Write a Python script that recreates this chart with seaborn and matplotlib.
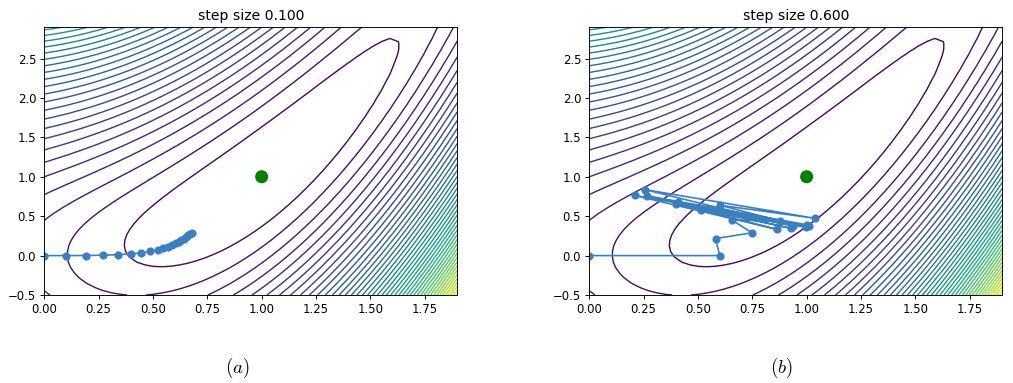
import numpy as np
import matplotlib
matplotlib.use("Agg")
import matplotlib.pyplot as plt
import seaborn as sns

# Gradient-descent iterates (step size 0.1 and 0.6)
path_a_x = [0.000, 0.100, 0.190, 0.269, 0.339, 0.398, 0.447, 0.488, 0.521, 0.548,
            0.570, 0.589, 0.605, 0.619, 0.631, 0.642, 0.653, 0.663, 0.672, 0.681]
path_a_y = [0.000, 0.000, 0.001, 0.005, 0.011, 0.022, 0.035, 0.052, 0.070, 0.091,
            0.111, 0.133, 0.154, 0.175, 0.196, 0.216, 0.236, 0.255, 0.273, 0.291]
path_b_x = [0.000, 0.600, 0.581, 0.748, 0.657, 0.878, 0.601, 1.040, 0.254, 0.938,
            0.407, 1.013, 0.209, 0.864, 0.515, 1.001, 0.267, 0.927, 0.400, 0.997]
path_b_y = [0.000, 0.000, 0.216, 0.289, 0.451, 0.439, 0.639, 0.472, 0.838, 0.374,
            0.677, 0.370, 0.763, 0.332, 0.581, 0.391, 0.758, 0.346, 0.654, 0.358]
step_sizes = [0.1, 0.6]
captions = ["(a)", "(b)"]
optimum_x = [1.0]
optimum_y = [1.0]

# objective surface: f(x, y) = 0.5(1-x)^2 + 0.5(y-x^2)^2
x_range = (0.0, 1.9)
y_range = (-0.5, 2.9)
gx = np.linspace(*x_range, 50)
gy = np.linspace(*y_range, 50)
X, Y = np.meshgrid(gx, gy)
Z = 0.5 * (1 - X) ** 2 + 0.5 * (Y - X ** 2) ** 2

dpi = 84
fig = plt.figure(figsize=(1013 / dpi, 383 / dpi), dpi=dpi)
positions = [[44.3 / 1013, 1 - 295 / 383, 413 / 1013, 268 / 383],
             [589.3 / 1013, 1 - 295 / 383, 413 / 1013, 268 / 383]]
paths = [(path_a_x, path_a_y), (path_b_x, path_b_y)]
cap_x = [237 / 1013, 781 / 1013]
blue = "#3a7fbf"

for i in range(2):
    ax = fig.add_axes(positions[i])
    ax.contour(X, Y, Z, levels=50, cmap="viridis", linewidths=1.2)
    px, py = paths[i]
    df = {"x": px, "y": py}
    sns.lineplot(data=df, x="x", y="y", sort=False, estimator=None, ax=ax,
                 color=blue, linewidth=1.4, marker="o", markersize=7,
                 markeredgewidth=0, markerfacecolor=blue)
    sns.scatterplot(x=optimum_x, y=optimum_y, color="green", s=125,
                    edgecolor="none", ax=ax, zorder=5)
    ax.set_xlim(*x_range)
    ax.set_ylim(*y_range)
    ax.set_xticks([0.0, 0.25, 0.5, 0.75, 1.0, 1.25, 1.5, 1.75])
    ax.set_yticks([-0.5, 0.0, 0.5, 1.0, 1.5, 2.0, 2.5])
    ax.set_xlabel("")
    ax.set_ylabel("")
    ax.set_title(f"step size {step_sizes[i]:.3f}", fontsize=12)
    fig.text(cap_x[i], 1 - 368 / 383, r"$\mathit{" + captions[i] + "}$",
             ha="center", va="center", fontsize=16, math_fontfamily="cm")

fig.savefig("out.png", dpi=dpi)
